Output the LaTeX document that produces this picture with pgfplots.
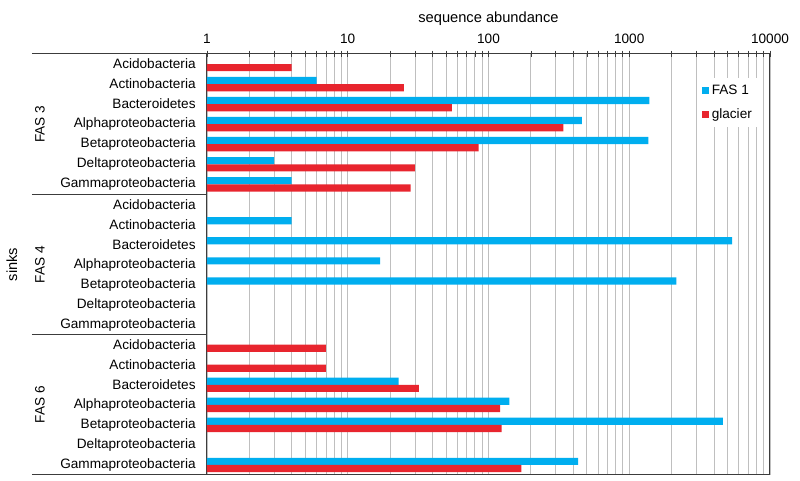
\documentclass[border=0pt]{standalone}
\usepackage{fontspec}
\setmainfont{Liberation Sans}
\usepackage{pgfplots}
\pgfplotsset{compat=1.18}
\definecolor{fasblue}{RGB}{0,174,239}
\definecolor{glred}{RGB}{232,37,46}
\definecolor{axisgray}{RGB}{60,60,60}
\begin{document}
\begin{tikzpicture}[font=\fontsize{10.2}{12}\selectfont]
\begin{axis}[
  scale only axis, width=422.25pt, height=315.75pt,
  xmode=log, xmin=1, xmax=10000, ymin=-0.5, ymax=20.5,
  xtick={1,10,100,1000,10000}, xticklabels={1,10,100,1000,10000},
  xtick pos=right, xticklabel pos=right, xticklabel shift=1.5pt,
  tick align=center, major tick length=5pt, minor tick length=5pt,
  xmajorgrids, xminorgrids, grid style={draw=black!25, line width=0.6pt},
  ytick={0,...,20},
  yticklabels={Gammaproteobacteria,Deltaproteobacteria,Betaproteobacteria,Alphaproteobacteria,Bacteroidetes,Actinobacteria,Acidobacteria,
               Gammaproteobacteria,Deltaproteobacteria,Betaproteobacteria,Alphaproteobacteria,Bacteroidetes,Actinobacteria,Acidobacteria,
               Gammaproteobacteria,Deltaproteobacteria,Betaproteobacteria,Alphaproteobacteria,Bacteroidetes,Actinobacteria,Acidobacteria},
  ytick style={draw=none}, yticklabel shift=2.5pt,
  axis line style={axisgray, line width=0.75pt},
  xtick style={axisgray, line width=0.6pt},
  minor x tick style={axisgray, line width=0.5pt},
  clip=false,
  legend style={at={(0.872,0.943)}, anchor=north west, draw=none, fill=white,
    row sep=5pt, inner sep=3pt, font=\fontsize{10.2}{12}\selectfont},
  legend cell align=left,
]
\addplot[xbar, bar width=0.36, bar shift=0.18, fill=fasblue, draw=none,
  legend image code/.code={\fill[fasblue] (0pt,-2.6pt) rectangle (5.2pt,2.6pt);}]
  coordinates {(6,19) (1390,18) (460,17) (1365,16) (3,15) (4,14)
               (4,12) (5380,11) (17,10) (2160,9)
               (23,4) (141,3) (4630,2) (433,0)};
\addlegendentry{FAS 1}
\addplot[xbar, bar width=0.36, bar shift=-0.18, fill=glred, draw=none,
  legend image code/.code={\fill[glred] (0pt,-2.6pt) rectangle (5.2pt,2.6pt);}]
  coordinates {(4,20) (25,19) (55,18) (340,17) (85,16) (30,15) (28,14)
               (7,6) (7,5) (32,4) (121,3) (124,2) (171,0)};
\addlegendentry{glacier}
\coordinate (SW) at (rel axis cs:0,0);
\coordinate (NE) at (rel axis cs:1,1);
\draw[axisgray, line width=0.75pt] ([xshift=-131.25pt]rel axis cs:0,0) -- (rel axis cs:0,0);
\draw[axisgray, line width=0.75pt] ([xshift=-131.25pt]rel axis cs:0,0.33333) -- (rel axis cs:0,0.33333);
\draw[axisgray, line width=0.75pt] ([xshift=-131.25pt]rel axis cs:0,0.66667) -- (rel axis cs:0,0.66667);
\draw[axisgray, line width=0.75pt] ([xshift=-131.25pt]rel axis cs:0,1) -- (rel axis cs:0,1);
\node[rotate=90] at ([xshift=-125.25pt]rel axis cs:0,0.8333) {FAS 3};
\node[rotate=90] at ([xshift=-125.25pt]rel axis cs:0,0.5) {FAS 4};
\node[rotate=90] at ([xshift=-125.25pt]rel axis cs:0,0.1667) {FAS 6};
\node[rotate=90, font=\fontsize{11}{13}\selectfont] at ([xshift=-146.25pt]rel axis cs:0,0.5) {sinks};
\node[font=\fontsize{11}{13}\selectfont] at ([yshift=26.25pt]rel axis cs:0.5,1) {sequence abundance};
\end{axis}
\pgfresetboundingbox
\path[use as bounding box] ([xshift=-155.25pt,yshift=-4.5pt]SW) rectangle ([xshift=22.5pt,yshift=40.5pt]NE);
\end{tikzpicture}
\end{document}
